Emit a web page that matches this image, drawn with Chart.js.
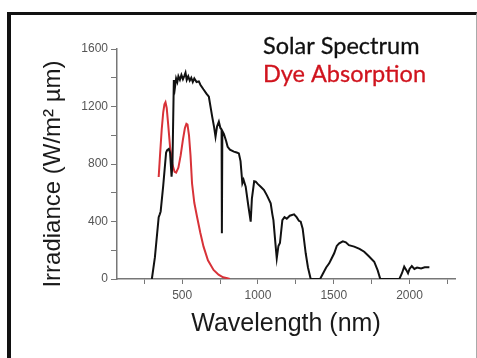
<!DOCTYPE html>
<html>
<head>
<meta charset="utf-8">
<script src="https://cdn.jsdelivr.net/npm/chart.js@4"></script>
<style>
  html, body { margin: 0; padding: 0; background: #fff; overflow: hidden; }
  #frame { position: absolute; left: 7px; top: 12px; width: 465px; height: 360px;
           border-left: 4px solid #111; border-top: 3px solid #111; border-right: 1px solid #aaa; }
  #wrap { position: absolute; left: 0; top: 0; width: 477px; height: 358px; }
</style>
</head>
<body>
<div id="frame"></div>
<div id="wrap"><canvas id="myChart"></canvas></div>
<script>
  // solar spectrum (AM1.5)
  const solarNm = [300, 320, 345, 352, 358, 375, 394, 401, 412, 420, 430, 436, 445, 452, 460, 468, 475, 485,
    495, 505, 515, 522, 530, 540, 550, 560, 570, 580, 595, 610, 621, 640, 660, 676, 690, 698, 710, 720,
    730, 742, 752, 760, 762, 765, 775, 790, 800, 815, 841, 860, 874, 885, 897, 905, 919, 935, 952, 960,
    975, 985, 1000, 1020, 1040, 1060, 1084, 1095, 1102, 1115, 1124, 1135, 1145, 1161, 1175, 1190, 1210,
    1238, 1255, 1270, 1282, 1295, 1315, 1330, 1348, 1410, 1430, 1450, 1470, 1480, 1503, 1520, 1536, 1560,
    1580, 1600, 1635, 1670, 1701, 1730, 1767, 1790, 1807, 1933, 1950, 1965, 1980, 1990, 2000, 2015, 2032,
    2050, 2076, 2100, 2131];
  const solarVal = [0, 150, 430, 450, 470, 650, 880, 897, 905, 880, 712, 800, 1384, 1330, 1395, 1370, 1410, 1385,
    1420, 1390, 1415, 1435, 1385, 1410, 1380, 1400, 1370, 1395, 1370, 1375, 1350, 1320, 1290, 1268, 1180, 1129, 1060, 990,
    1060, 1094, 1050, 1040, 318, 1030, 1010, 960, 920, 900, 886, 880, 874, 820, 666, 690, 642, 520, 399, 560,
    680, 677, 660, 640, 619, 580, 527, 450, 410, 250, 144, 230, 250, 410, 430, 420, 440,
    450, 430, 405, 399, 350, 179, 80, 0, 0, 40, 80, 109, 130, 179, 230, 248, 262,
    255, 235, 225, 210, 190, 160, 120, 60, 0, 0, 40, 86, 60, 40, 70, 90, 70,
    80, 74, 82, 81];

  // dye absorption, same axes
  const dyeNm = [345, 355, 365, 375, 383, 390, 398, 408, 420, 435, 450, 460, 475, 490, 505, 518, 528, 535,
    545, 555, 565, 580, 598, 620, 641, 670, 707, 740, 770, 798, 815];
  const dyeVal = [710, 880, 1040, 1160, 1215, 1230, 1190, 1070, 920, 800, 745, 740, 775, 860, 970, 1050, 1080, 1075,
    1000, 860, 666, 530, 433, 320, 225, 130, 63, 30, 12, 5, 0];

  const xTicks = [250, 500, 750, 1000, 1250, 1500, 1750, 2000, 2250];
  const yTicks = [0, 200, 400, 600, 800, 1000, 1200, 1400, 1600];

  const toPts = (xs, ys) => xs.map((x, i) => ({x: x, y: ys[i]}));

  // text legend top right, no swatches
  const textLegend = {
    id: 'textLegend',
    afterDatasetsDraw(chart) {
      const {ctx, chartArea} = chart;
      ctx.save();
      ctx.font = '23.5px Lato';
      ctx.textBaseline = 'alphabetic';
      ctx.lineWidth = 0.3;
      chart.data.datasets.forEach((ds, i) => {
        const x = chartArea.left + 146, y = chartArea.top + 5 + i * 28;
        ctx.fillStyle = ds.legendColor;
        ctx.strokeStyle = ds.legendColor;
        ctx.fillText(ds.label, x, y);
        ctx.strokeText(ds.label, x, y);
      });
      ctx.restore();
    }
  };

  const axisGray = '#777';

  new Chart(document.getElementById('myChart'), {
    type: 'scatter',
    data: {
      datasets: [{
        label: 'Solar Spectrum',
        data: toPts(solarNm, solarVal),
        borderColor: '#111',
        legendColor: '#111',
        borderWidth: 2,
        showLine: true,
        pointRadius: 0
      }, {
        label: 'Dye Absorption',
        data: toPts(dyeNm, dyeVal),
        borderColor: '#d83238',
        legendColor: '#d0141e',
        borderWidth: 2,
        showLine: true,
        pointRadius: 0
      }]
    },
    options: {
      responsive: true,
      maintainAspectRatio: false,
      animation: false,
      layout: { padding: { left: 0, top: 49, right: 22, bottom: 0 } },
      plugins: { legend: { display: false }, tooltip: { enabled: false } },
      scales: {
        x: {
          type: 'linear',
          min: 70,
          max: 2300,
          afterBuildTicks: s => { s.ticks = xTicks.map(v => ({value: v})); },
          afterFit: s => { s.height = 79; },
          ticks: {
            color: '#555',
            font: { family: 'Liberation Sans', size: 12 },
            padding: 4,
            maxRotation: 0,
            autoSkip: false,
            callback: v => (v % 500 === 0 ? v : '')
          },
          grid: { drawOnChartArea: false, tickLength: 5, tickColor: axisGray },
          border: { color: axisGray, width: 1.5 },
          title: {
            display: true,
            text: 'Wavelength (nm)',
            color: '#1a1a1a',
            font: { family: 'Liberation Sans', size: 25, lineHeight: 1 },
            padding: { top: 0, bottom: 21 }
          }
        },
        y: {
          min: 0,
          max: 1600,
          afterBuildTicks: s => { s.ticks = yTicks.map(v => ({value: v})); },
          afterFit: s => { s.width = 117; },
          ticks: {
            color: '#555',
            font: { family: 'Liberation Sans', size: 12 },
            padding: 3,
            autoSkip: false,
            callback: v => (v % 400 === 0 ? v : '')
          },
          grid: { drawOnChartArea: false, tickLength: 6, tickColor: axisGray },
          border: { color: axisGray, width: 1.5 },
          title: {
            display: true,
            // trailing spaces nudge the rotated title down a little
            text: 'Irradiance (W/m² µm)   ',
            color: '#1a1a1a',
            font: { family: 'Liberation Sans', size: 24, lineHeight: 1 },
            padding: { top: 41, bottom: 0 }
          }
        }
      }
    },
    plugins: [textLegend]
  });
</script>
</body>
</html>
